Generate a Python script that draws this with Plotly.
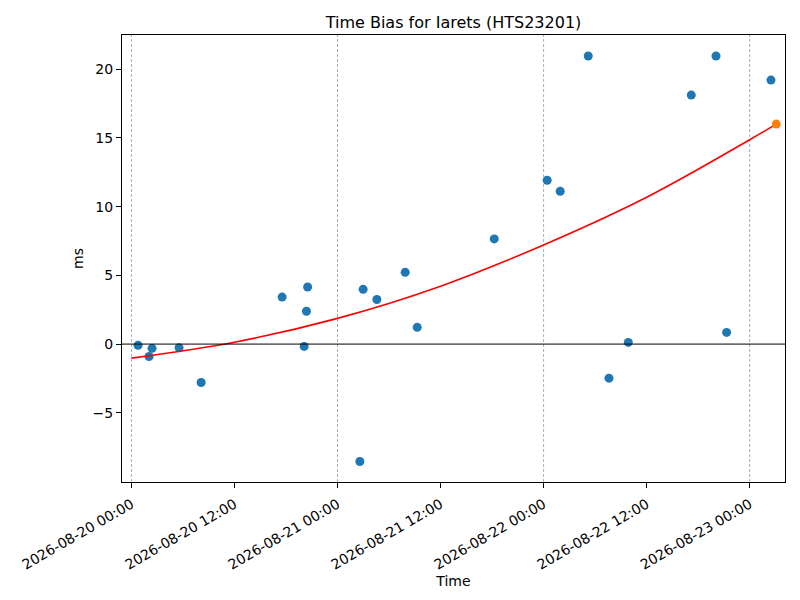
import plotly.graph_objects as go

# Measured time bias samples
times = [
    "2026-08-20 00:46", "2026-08-20 02:03", "2026-08-20 02:24", "2026-08-20 05:33",
    "2026-08-20 08:07", "2026-08-20 17:33", "2026-08-20 20:07", "2026-08-20 20:23",
    "2026-08-20 20:31", "2026-08-21 02:36", "2026-08-21 02:59", "2026-08-21 04:35",
    "2026-08-21 07:53", "2026-08-21 09:17", "2026-08-21 18:15", "2026-08-22 00:25",
    "2026-08-22 01:56", "2026-08-22 05:12", "2026-08-22 07:37", "2026-08-22 09:52",
    "2026-08-22 17:12", "2026-08-22 20:05", "2026-08-22 21:19", "2026-08-23 02:29",
]
bias_ms = [
    -0.09, -0.90, -0.31, -0.27,
    -2.79, 3.42, -0.17, 2.39,
    4.15, -8.54, 3.98, 3.24,
    5.22, 1.22, 7.65, 11.92,
    11.12, 20.95, -2.48, 0.12,
    18.11, 20.95, 0.85, 19.20,
]

# Predicted point (orange)
pred_time = ["2026-08-23 03:06"]
pred_bias = [16.0]

# Fitted trend curve
fit_times = [
    "2026-08-20 00:00", "2026-08-20 12:00", "2026-08-21 00:00", "2026-08-21 12:00",
    "2026-08-22 00:00", "2026-08-22 12:00", "2026-08-23 00:00", "2026-08-23 03:06",
]
fit_bias = [-1.02, 0.14, 1.87, 4.21, 7.21, 10.68, 14.86, 16.0]

# Day boundary markers
day_lines = ["2026-08-20 00:00", "2026-08-21 00:00", "2026-08-22 00:00", "2026-08-23 00:00"]

tick_times = ["2026-08-20 00:00", "2026-08-20 12:00", "2026-08-21 00:00", "2026-08-21 12:00",
              "2026-08-22 00:00", "2026-08-22 12:00", "2026-08-23 00:00"]
y_ticks = [-5, 0, 5, 10, 15, 20]

x_range = ["2026-08-19 22:54", "2026-08-23 04:07"]
y_range = [-10.03, 22.48]

fig = go.Figure()

fig.add_trace(go.Scatter(
    x=times, y=bias_ms, mode="markers",
    marker=dict(color="#1f77b4", size=9),
    showlegend=False,
))
fig.add_trace(go.Scatter(
    x=fit_times, y=fit_bias, mode="lines", line_shape="spline",
    line=dict(color="red", width=1.6),
    showlegend=False,
))
fig.add_trace(go.Scatter(
    x=pred_time, y=pred_bias, mode="markers",
    marker=dict(color="#ff7f0e", size=9),
    showlegend=False,
))

for d in day_lines:
    fig.add_shape(type="line", xref="x", yref="paper", x0=d, x1=d, y0=0, y1=1,
                  line=dict(color="rgba(60,100,140,0.85)", width=0.6, dash="3px,2px"),
                  layer="below")

fig.add_shape(type="line", xref="paper", yref="y", x0=0, x1=1, y0=0, y1=0,
              line=dict(color="black", width=1), layer="above")

fig.update_layout(
    width=800, height=600,
    margin=dict(l=114, r=23, t=27, b=126, autoexpand=False),
    paper_bgcolor="white", plot_bgcolor="white",
    font=dict(family="DejaVu Sans", size=14, color="black"),
    title=dict(text="Time Bias for Iarets (HTS23201)", x=0.5, xanchor="center",
               xref="paper", y=1 - 14/600, yanchor="middle", font=dict(size=16)),
)

fig.update_xaxes(
    type="date", range=x_range, automargin=False,
    tickvals=tick_times,
    tickformat="%Y-%m-%d %H:%M", tickangle=-30,
    ticks="outside", ticklen=5, tickcolor="black", ticklabelstandoff=3,
    showline=True, linecolor="black", linewidth=1, mirror=True,
    showgrid=False, zeroline=False,
    title=dict(text="Time", font=dict(size=14), standoff=1),
    tickfont=dict(size=14),
)
fig.update_yaxes(
    range=y_range, tickvals=y_ticks, automargin=False,
    ticks="outside", ticklen=5, tickcolor="black",
    showline=True, linecolor="black", linewidth=1, mirror=True,
    showgrid=False, zeroline=False,
    title=dict(text="ms", font=dict(size=14), standoff=5),
    tickfont=dict(size=14),
)

fig.write_html("out.html")
